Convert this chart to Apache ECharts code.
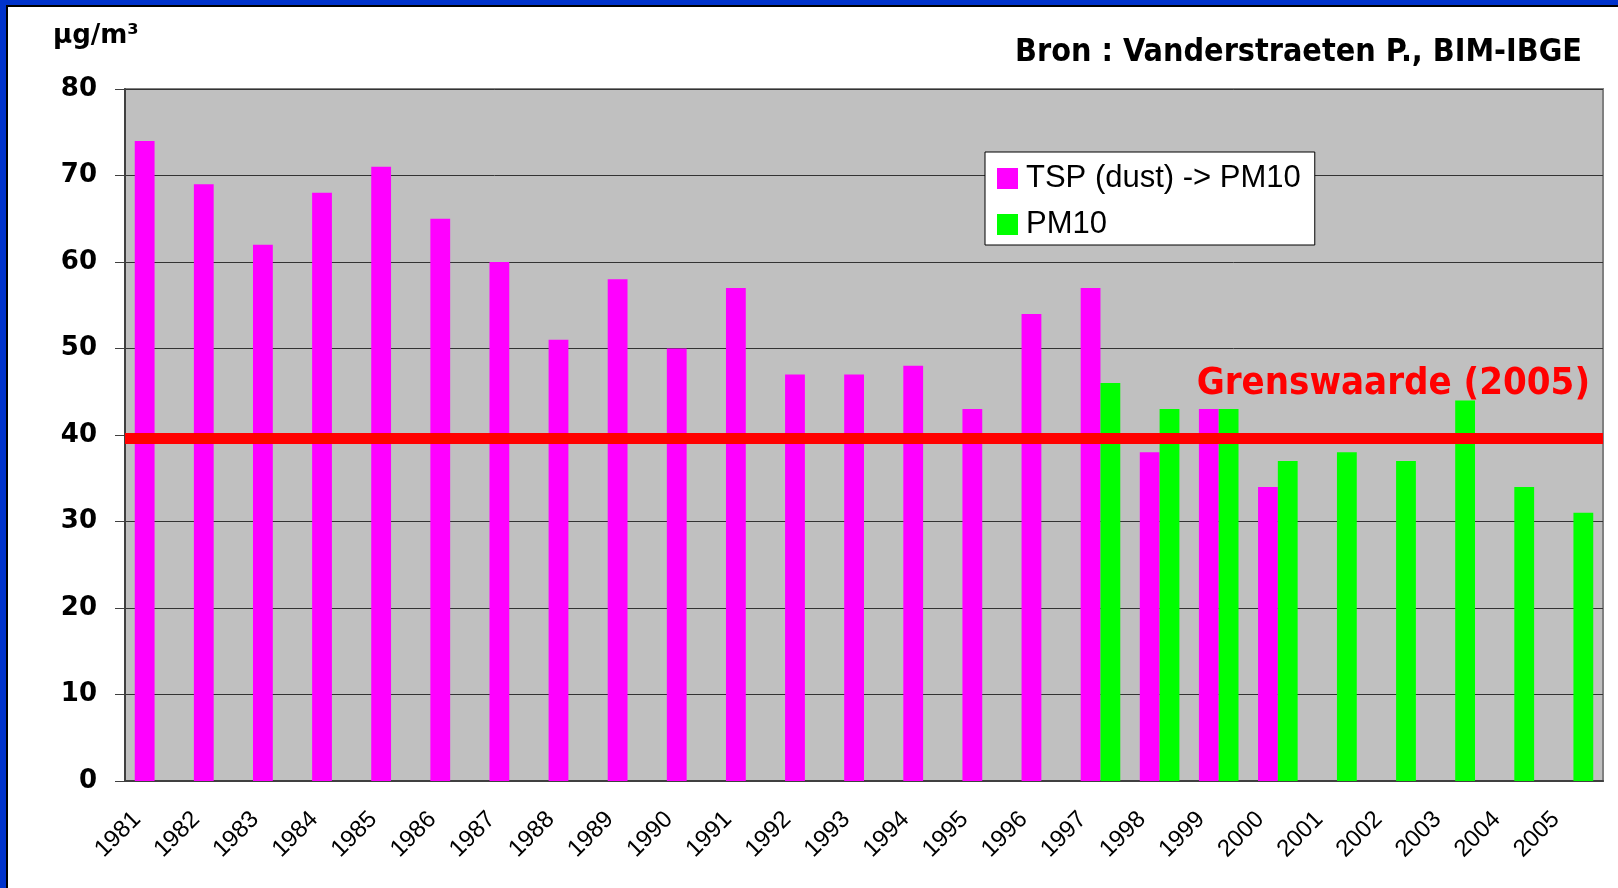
<!DOCTYPE html>
<html>
<head>
<meta charset="utf-8">
<title>TSP / PM10</title>
<script src="https://cdn.jsdelivr.net/npm/echarts@6/dist/echarts.min.js"></script>
<style>
  html, body { margin: 0; padding: 0; background: #fff; }
  #chart { width: 1618px; height: 888px; }
</style>
</head>
<body>
<div id="chart"></div>
<script>
  /** Data */
  var years = ['1981', '1982', '1983', '1984', '1985', '1986', '1987', '1988', '1989',
    '1990', '1991', '1992', '1993', '1994', '1995', '1996', '1997', '1998', '1999',
    '2000', '2001', '2002', '2003', '2004', '2005'];
  var tsp = [74, 69, 62, 68, 71, 65, 60, 51, 58, 50, 57, 47, 47, 48, 43, 54, 57, 38, 43, 34,
    null, null, null, null, null];
  var pm10 = [null, null, null, null, null, null, null, null, null, null, null, null, null,
    null, null, null, 46, 43, 43, 37, 38, 37, 44, 34, 31];
  var limitValue = 39.6;
  var seriesNames = ['TSP (dust) -> PM10', 'PM10'];

  var boldFont = "'DejaVu Sans Condensed', 'DejaVu Sans', sans-serif";

  /** Chart */
  var option = {
    animation: false,
    backgroundColor: '#ffffff',
    color: ['#ff00ff', '#00ff00'],
    grid: {
      left: 125,
      top: 89,
      right: 15,
      bottom: 107,
      show: true,
      backgroundColor: '#c0c0c0',
      borderColor: '#808080',
      borderWidth: 2
    },
    legend: {
      orient: 'vertical',
      left: 985,
      top: 152,
      backgroundColor: '#ffffff',
      borderColor: '#000000',
      borderWidth: 1,
      padding: [11, 14, 5, 12],
      itemGap: 15,
      itemWidth: 21,
      itemHeight: 21,
      icon: 'rect',
      textStyle: {
        fontFamily: 'Liberation Sans',
        fontSize: 31,
        lineHeight: 30,
        color: '#000',
        padding: [0, 0, 0, 3]
      },
      data: seriesNames
    },
    xAxis: {
      type: 'category',
      data: years,
      axisLine: { lineStyle: { color: '#404040', width: 2 } },
      axisTick: { length: 7, lineStyle: { color: '#404040', width: 1 } },
      axisLabel: {
        interval: 0,
        rotate: 45,
        margin: 17,
        padding: [0, 25, 0, 0],
        fontFamily: 'Liberation Sans',
        fontSize: 24,
        color: '#000'
      }
    },
    yAxis: {
      type: 'value',
      min: 0,
      max: 80,
      interval: 10,
      axisLine: { show: true, lineStyle: { color: '#404040', width: 2 } },
      axisTick: { show: true, length: 10, lineStyle: { color: '#404040' } },
      splitLine: { lineStyle: { color: '#333333', width: 1 } },
      axisLabel: {
        margin: 28,
        fontFamily: 'DejaVu Sans',
        fontWeight: 'bold',
        fontSize: 26,
        color: '#000'
      }
    },
    series: [{
      name: seriesNames[0],
      type: 'bar',
      data: tsp,
      barGap: 0,
      barCategoryGap: '33%',
      markLine: {
        silent: true,
        symbol: ['none', 'none'],
        label: { show: false },
        lineStyle: { color: '#ff0000', width: 11, type: 'solid' },
        data: [{ yAxis: limitValue }]
      }
    }, {
      name: seriesNames[1],
      type: 'bar',
      data: pm10,
      barGap: 0,
      barCategoryGap: '33%'
    }],
    graphic: [
      // frame, top and left only
      { type: 'rect', shape: { x: 0, y: 0, width: 1618, height: 5 }, style: { fill: '#0033cc' } },
      { type: 'rect', shape: { x: 6, y: 5, width: 1612, height: 2 }, style: { fill: '#000' } },
      { type: 'rect', shape: { x: 0, y: 0, width: 6, height: 888 }, style: { fill: '#0033cc' } },
      { type: 'rect', shape: { x: 6, y: 5, width: 2, height: 883 }, style: { fill: '#000' } },
      {
        type: 'text', x: 53, y: 36,
        style: {
          text: 'µg/m³', fill: '#000', align: 'left', verticalAlign: 'middle',
          font: 'bold 26px DejaVu Sans'
        }
      },
      {
        type: 'text', x: 1582, y: 53,
        style: {
          text: 'Bron : Vanderstraeten P., BIM-IBGE', fill: '#000', align: 'right',
          verticalAlign: 'middle', fontFamily: boldFont, fontWeight: 'bold', fontSize: 32
        }
      },
      {
        type: 'text', x: 1590, y: 384, z: 10,
        style: {
          text: 'Grenswaarde (2005)', fill: '#ff0000', align: 'right',
          verticalAlign: 'middle', fontFamily: boldFont, fontWeight: 'bold', fontSize: 38
        }
      }
    ]
  };

  echarts.init(document.getElementById('chart')).setOption(option);
</script>
</body>
</html>
